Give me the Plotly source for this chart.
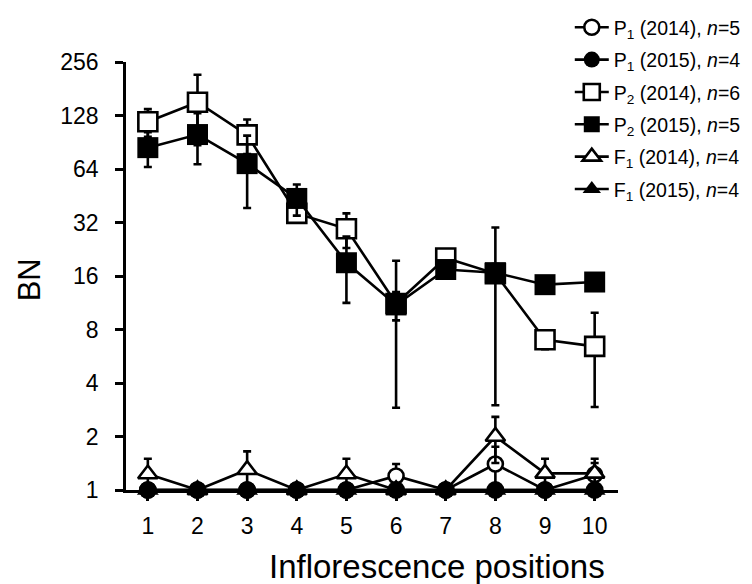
import math
import plotly.graph_objects as go

positions = [1, 2, 3, 4, 5, 6, 7, 8, 9, 10]

p1_2014 = [1, 1, 1, 1, 1, 1.2, 1, 1.4, 1, 1.22]
p1_2014_sd = [0, 0, 0, 0, 0, 0.2, 0, 0.35, 0, 0.2]
p1_2015 = [1, 1, 1, 1, 1, 1, 1, 1, 1, 1]
p1_2015_sd = [0, 0, 0, 0, 0, 0, 0, 0, 0, 0]
p2_2014 = [118, 152, 99.6, 36, 29.5, 11.2, 20.2, 16.5, 7.0, 6.43]
p2_2014_sd = [21, 65, 22, 4, 6.5, 8.3, 1.5, 13.5, 0.8, 3.5]
p2_2015 = [84.4, 100, 68.6, 43.7, 19, 11.0, 17.4, 16.7, 14.3, 14.8]
p2_2015_sd = [18.7, 32, 30, 8.7, 7.7, 2.0, 1.5, 2.0, 1.0, 1.0]
f1_2014 = [1.23, 1, 1.3, 1, 1.23, 1, 1, 2.0, 1.24, 1.24]
f1_2014_sd = [0.27, 0, 0.35, 0, 0.27, 0, 0, 0.58, 0.26, 0.26]
f1_2015 = [1, 1, 1, 1, 1, 1, 1, 1, 1, 1]
f1_2015_sd = [0, 0, 0, 0, 0, 0, 0, 0, 0, 0]

y_ticks = [1, 2, 4, 8, 16, 32, 64, 128, 256]
y_ticktext = [str(v) for v in y_ticks]

FONT = "Liberation Sans, Arial, sans-serif"

# (name, values, sd, symbol, size, legend rank) in drawing order
series = [
    ("P<sub>1</sub> (2014), <i>n</i>=5", p1_2014, p1_2014_sd, "circle-open", 15, 1),
    ("P<sub>2</sub> (2014), <i>n</i>=6", p2_2014, p2_2014_sd, "square-open", 19, 3),
    ("F<sub>1</sub> (2014), <i>n</i>=4", f1_2014, f1_2014_sd, "triangle-up-open", 17, 5),
    ("P<sub>1</sub> (2015), <i>n</i>=4", p1_2015, p1_2015_sd, "circle", 18, 2),
    ("P<sub>2</sub> (2015), <i>n</i>=5", p2_2015, p2_2015_sd, "square", 21, 4),
    ("F<sub>1</sub> (2015), <i>n</i>=4", f1_2015, f1_2015_sd, "triangle-up", 19, 6),
]

fig = go.Figure()
for name, vals, sd, sym, size, rank in series:
    minus = [min(s, v - 1) for v, s in zip(vals, sd)]
    is_open = sym.endswith("-open")
    fig.add_trace(go.Scatter(
        x=positions, y=vals, name=name, mode="lines+markers",
        legendrank=rank, legendgroup=str(rank),
        line=dict(color="black", width=2.6),
        marker=dict(symbol=sym.replace("-open", ""), size=size,
                    color="white" if is_open else "black",
                    line=dict(color="black", width=2.6 if is_open else 0)),
        error_y=dict(type="data", array=sd, arrayminus=minus, symmetric=False,
                     color="black", thickness=2.6, width=4,
                     visible=any(s > 0 for s in sd)),
        cliponaxis=False,
    ))

fig.update_layout(
    width=752, height=584,
    margin=dict(l=118, r=142, t=54, b=102, autoexpand=False),
    paper_bgcolor="white", plot_bgcolor="white",
    font=dict(family=FONT, color="black"),
    showlegend=True,
    legend=dict(x=0.902, xanchor="left", y=1.126, yanchor="top",
                font=dict(size=19.5, family=FONT), traceorder="grouped",
                tracegroupgap=4, bgcolor="rgba(0,0,0,0)", itemwidth=34),
    xaxis=dict(range=[0.56, 10.47], tickvals=positions,
               ticktext=[str(p) for p in positions],
               showline=True, linecolor="black", linewidth=2.6,
               ticks="outside", ticklen=8, tickwidth=2.6, tickcolor="black",
               tickfont=dict(size=23, family=FONT), showgrid=False,
               zeroline=False, ticklabelstandoff=6, automargin=False),
    yaxis=dict(type="log", range=[0, math.log10(256)], tickvals=y_ticks,
               ticktext=y_ticktext, showline=True, linecolor="black",
               linewidth=2.6, ticks="outside", ticklen=8, tickwidth=2.6,
               tickcolor="black", tickfont=dict(size=23, family=FONT),
               showgrid=False, zeroline=False, ticklabelstandoff=12,
               automargin=False),
    annotations=[
        dict(text="Inflorescence positions", xref="paper", yref="paper",
             x=0.632, y=-0.178, xanchor="center", yanchor="middle",
             showarrow=False, font=dict(size=33, family=FONT)),
        dict(text="BN", xref="paper", yref="paper", x=-0.197, y=0.49,
             xanchor="center", yanchor="middle", textangle=-90,
             showarrow=False, font=dict(size=31, family=FONT)),
    ],
)

fig.write_html("out.html")
